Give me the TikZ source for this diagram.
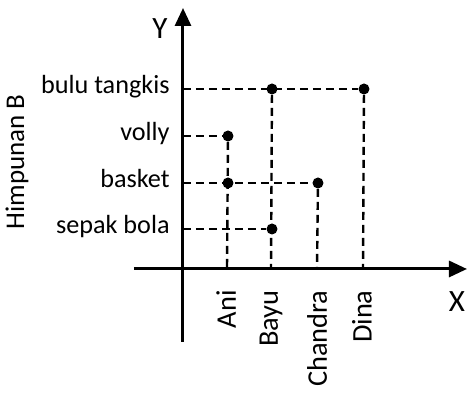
\documentclass[tikz,border=0pt]{standalone}
\usepackage{fontspec}
\setmainfont{Carlito}
\usetikzlibrary{arrows.meta}
\begin{document}
\begin{tikzpicture}[x=0.5pt,y=0.5pt,
  dot/.style={circle, inner sep=0pt, minimum size=5.5pt, fill},
  guide/.style={line width=1.2pt, dash pattern=on 4pt off 2.5pt},
  axis/.style={line width=1.5pt, -{Triangle[length=9pt,width=8pt]}},
  ylab/.style={anchor=mid east, inner sep=0pt, font=\fontsize{13.1}{15}\selectfont},
  xlab/.style={anchor=east, rotate=90, inner sep=0pt, font=\fontsize{14.2}{16}\selectfont}]
\useasboundingbox (0,0) rectangle (468,394);
% axes
\coordinate (ybot) at (183,52);
\coordinate (ytop) at (183,386);
\coordinate (xleft) at (134,125);
\coordinate (xright) at (467,125);
\draw[axis] (ybot) -- (ytop);
\draw[axis] (xleft) -- (xright);
\node[font=\fontsize{15.5}{18}\selectfont] (ylabel) at (160,365) {Y};
\node[font=\fontsize{15.5}{18}\selectfont] (xlabel) at (457,92) {X};
\node[rotate=90, font=\fontsize{13.5}{16}\selectfont] (himp) at (17,232) {Himpunan B};
% set B on the y axis
\coordinate (bulu) at (183,305);
\coordinate (volly) at (183,258);
\coordinate (basket) at (183,211);
\coordinate (sepak) at (183,165);
\node[ylab] (lbulu) at (170,305) {bulu tangkis};
\node[ylab] (lvolly) at (170,258) {volly};
\node[ylab] (lbasket) at (170,211) {basket};
\node[ylab] (lsepak) at (170,165) {sepak bola};
% set A on the x axis
\coordinate (ani) at (227,125);
\coordinate (bayu) at (271,125);
\coordinate (chandra) at (317,125);
\coordinate (dina) at (363,125);
\node[xlab] (lani) at (226,104) {Ani};
\node[xlab] (lbayu) at (271,104) {Bayu};
\node[xlab] (lchandra) at (317,104) {Chandra};
\node[xlab] (ldina) at (362,104) {Dina};
% pairs
\node[dot] (ani-volly) at (228,258){};
\node[dot] (ani-basket) at (228,211){};
\node[dot] (bayu-sepak) at (272,165){};
\node[dot] (bayu-bulu) at (272,305){};
\node[dot] (chandra-basket) at (318,211){};
\node[dot] (dina-bulu) at (364,305){};
\draw[guide](bulu) -- (dina-bulu);
\draw[guide](volly) -- (ani-volly);
\draw[guide](basket) -- (chandra-basket);
\draw[guide](sepak) -- (bayu-sepak);
\draw[guide](ani-volly) -- (ani);
\draw[guide](bayu-bulu) -- (bayu);
\draw[guide](chandra-basket) -- (chandra);
\draw[guide](dina-bulu) -- (dina);
\end{tikzpicture}
\end{document}
